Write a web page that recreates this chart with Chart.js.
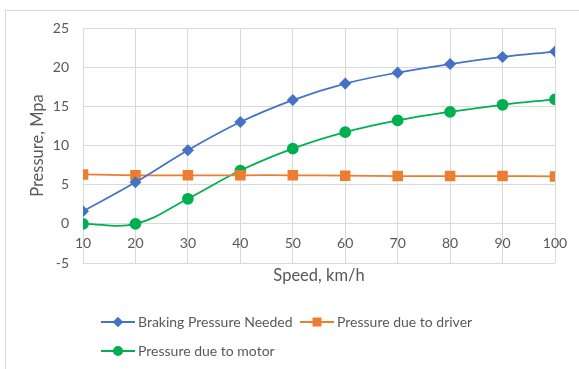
<!DOCTYPE html>
<html>
<head>
<meta charset="utf-8">
<script src="https://cdn.jsdelivr.net/npm/chart.js@4"></script>
<style>
  body { margin: 0; background: #fff; overflow: hidden; }
  #frame { position: absolute; left: 5px; top: 10px; width: 700px; height: 500px; border: 1px solid #d9d9d9; }
  #wrap { position: absolute; left: 0; top: 0; width: 579px; height: 369px; }
</style>
</head>
<body>
<div id="frame"></div>
<div id="wrap"><canvas id="chart" width="579" height="369"></canvas></div>
<script>
const speeds = [10, 20, 30, 40, 50, 60, 70, 80, 90, 100];
const brakingNeeded = [1.6, 5.3, 9.4, 13.0, 15.8, 17.9, 19.3, 20.4, 21.3, 22.0];
const dueToDriver = [6.3, 6.2, 6.2, 6.2, 6.2, 6.15, 6.1, 6.1, 6.1, 6.05];
const dueToMotor = [0, 0, 3.2, 6.8, 9.6, 11.7, 13.2, 14.3, 15.2, 15.9];

const FONT = "Lato, 'Open Sans', sans-serif";
const TEXT = "#595959";
const GRID = "#d9d9d9";

const points = vals => speeds.map((s, i) => ({ x: s, y: vals[i] }));

// legend drawn by hand so rows sit like Excel's
const excelLegend = {
  id: "excelLegend",
  afterDraw(chart) {
    const ctx = chart.ctx;
    const rows = [
      [{ ds: 0, x: 101 }, { ds: 1, x: 300 }],
      [{ ds: 2, x: 101 }]
    ];
    const rowY = [322, 351];
    ctx.save();
    ctx.font = "14px " + FONT;
    ctx.textBaseline = "middle";
    rows.forEach((row, r) => {
      row.forEach(item => {
        const ds = chart.data.datasets[item.ds];
        const y = rowY[r];
        ctx.strokeStyle = ds.borderColor;
        ctx.lineWidth = 2;
        ctx.beginPath();
        ctx.moveTo(item.x, y);
        ctx.lineTo(item.x + 34, y);
        ctx.stroke();
        ctx.fillStyle = ds.pointBackgroundColor;
        ctx.strokeStyle = ds.pointBackgroundColor;
        Chart.helpers.drawPoint(ctx, {
          pointStyle: ds.pointStyle,
          radius: ds.pointRadius * 0.8,
          borderWidth: 1
        }, item.x + 17, y);
        ctx.fillStyle = TEXT;
        ctx.fillText(ds.label, item.x + 37, y);
      });
    });
    ctx.restore();
  }
};

new Chart(document.getElementById("chart"), {
  type: "line",
  data: {
    datasets: [
      {
        label: "Braking Pressure Needed",
        data: points(brakingNeeded),
        borderColor: "#4472C4",
        pointBackgroundColor: "#4472C4",
        pointBorderColor: "#4472C4",
        pointStyle: "rectRot",
        pointRadius: 4.8,
        borderWidth: 1.75,
        tension: 0.4
      },
      {
        label: "Pressure due to driver",
        data: points(dueToDriver),
        borderColor: "#ED7D31",
        pointBackgroundColor: "#ED7D31",
        pointBorderColor: "#ED7D31",
        pointStyle: "rect",
        pointRadius: 6.2,
        borderWidth: 1.75,
        tension: 0.4
      },
      {
        label: "Pressure due to motor",
        data: points(dueToMotor),
        borderColor: "#00B050",
        pointBackgroundColor: "#00B050",
        pointBorderColor: "#00B050",
        pointStyle: "circle",
        pointRadius: 5,
        borderWidth: 1.75,
        tension: 0.4
      }
    ]
  },
  options: {
    responsive: false,
    animation: false,
    layout: { padding: { top: 28, right: 24, bottom: 66, left: 0 } },
    plugins: { legend: { display: false }, tooltip: { enabled: false } },
    scales: {
      x: {
        type: "linear",
        position: "bottom",
        min: 10, max: 100,
        ticks: { display: false, stepSize: 10 },
        grid: { color: GRID, lineWidth: 1, drawTicks: false },
        border: { display: false },
        title: {
          display: true,
          text: "Speed, km/h",
          color: TEXT,
          font: { family: FONT, size: 16.5 },
          padding: { top: 0, bottom: 17 }
        },
        afterFit: s => { s.height = 40; }
      },
      x2: {
        type: "linear",
        axis: "x",
        position: { y: 0 },
        min: 10, max: 100,
        ticks: { stepSize: 10, color: TEXT, font: { family: FONT, size: 14 }, padding: 11, maxRotation: 0 },
        grid: { display: false, drawTicks: false },
        border: { display: false }
      },
      y: {
        min: -5, max: 25,
        ticks: { stepSize: 5, color: TEXT, font: { family: FONT, size: 14 }, padding: 14 },
        grid: { color: GRID, lineWidth: 1, drawTicks: false },
        border: { display: false },
        title: {
          display: true,
          text: "Pressure, Mpa",
          color: TEXT,
          font: { family: FONT, size: 16.5 },
          padding: { top: 28, bottom: 0 }
        },
        afterFit: s => { s.width = 83; }
      }
    }
  },
  plugins: [excelLegend]
});
</script>
</body>
</html>
